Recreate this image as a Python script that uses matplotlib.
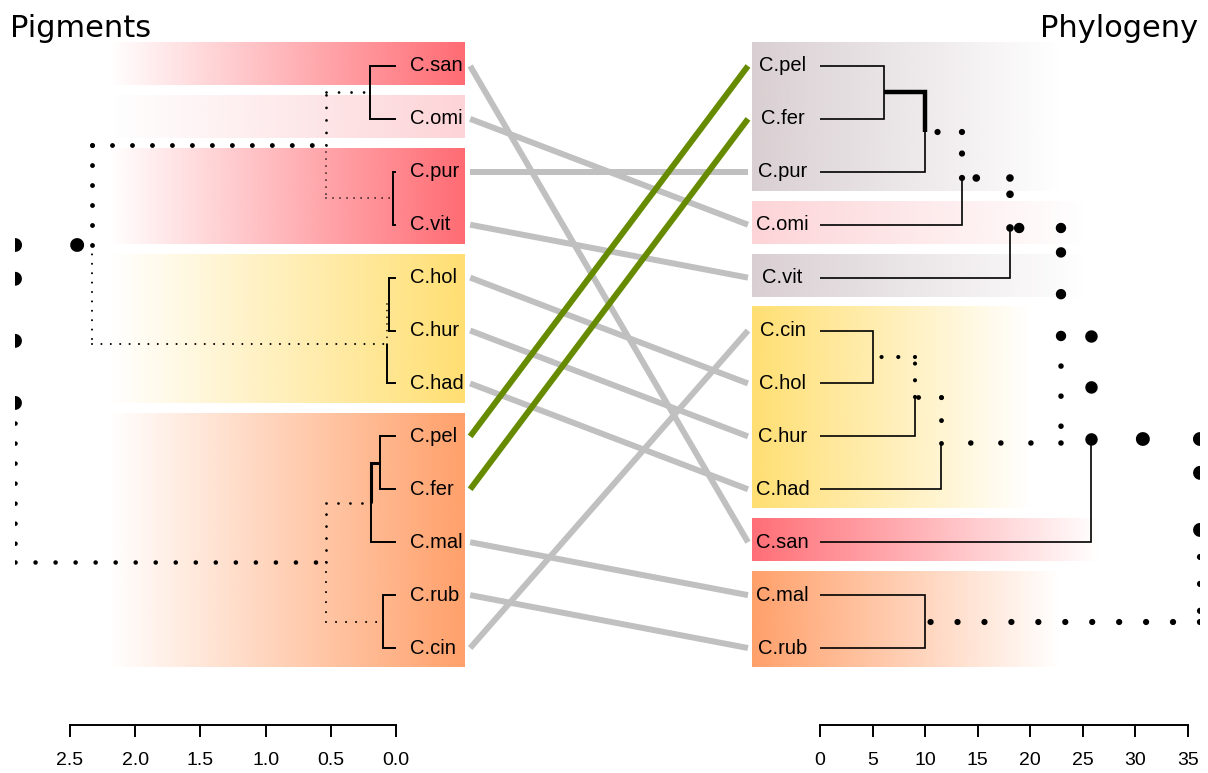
import numpy as np
import matplotlib
matplotlib.use('Agg')
import matplotlib.pyplot as plt
from matplotlib.colors import to_rgb

plt.rcParams['font.family'] = ['Liberation Sans', 'DejaVu Sans']

# leaf order of each tree, top to bottom
left_labels = ['C.san', 'C.omi', 'C.pur', 'C.vit', 'C.hol', 'C.hur', 'C.had',
               'C.pel', 'C.fer', 'C.mal', 'C.rub', 'C.cin']
right_labels = ['C.pel', 'C.fer', 'C.pur', 'C.omi', 'C.vit', 'C.cin', 'C.hol',
                'C.hur', 'C.had', 'C.san', 'C.mal', 'C.rub']

# merges: a leaf name or the index of an earlier merge, with merge heights
left_merges = [('C.san', 'C.omi'), ('C.pur', 'C.vit'), (0, 1), ('C.hol', 'C.hur'),
               (3, 'C.had'), (2, 4), ('C.pel', 'C.fer'), (6, 'C.mal'),
               ('C.rub', 'C.cin'), (7, 8), (5, 9)]
left_heights = [0.20, 0.02, 0.54, 0.05, 0.07, 2.33, 0.12, 0.19, 0.10, 0.54, 2.92]

right_merges = [('C.pel', 'C.fer'), (0, 'C.pur'), (1, 'C.omi'), (2, 'C.vit'),
                ('C.cin', 'C.hol'), (4, 'C.hur'), (5, 'C.had'), (3, 6),
                (7, 'C.san'), ('C.mal', 'C.rub'), (8, 9)]
right_heights = [6.1, 10.0, 13.5, 18.1, 5.05, 9.0, 11.5, 22.9, 25.8, 10.0, 36.1]

# coloured groups: first leaf, last leaf, colour
left_groups = [('C.san', 'C.san', '#FF6B73'), ('C.omi', 'C.omi', '#FDD4D7'),
               ('C.pur', 'C.vit', '#FF6B73'), ('C.hol', 'C.had', '#FFDF72'),
               ('C.pel', 'C.cin', '#FFA06A')]
right_groups = [('C.pel', 'C.pur', '#D9CFD2'), ('C.omi', 'C.omi', '#FDD4D7'),
                ('C.vit', 'C.vit', '#D9CFD2'), ('C.cin', 'C.had', '#FFDF72'),
                ('C.san', 'C.san', '#FF6E76'), ('C.mal', 'C.rub', '#FFA06A')]

# leaves joined by the highlighted (green) connectors
common = ['C.pel', 'C.fer']

left_ticks = [0.0, 0.5, 1.0, 1.5, 2.0, 2.5]
right_ticks = [0, 5, 10, 15, 20, 25, 30, 35]

# branch styles per merge (line width in pt, dot gap; gap 0 = solid)
left_lw = [(1.4, 1.4), (1.4, 1.4), (2.0, 1.2), (1.4, 1.4), (1.2, 1.4), (3.5, 1.5),
           (1.4, 1.4), (2.2, 1.4), (1.4, 1.4), (2.0, 1.5), (10, 3.3)]
left_gap = [(0, 0), (0, 0), (4.5, 4.2), (0, 0), (4.0, 0), (4.1, 4.5),
            (0, 0), (0, 0), (0, 0), (4.3, 4.8), (4.46, 4.36)]
right_lw = [(1.2, 1.2), (3.2, 1.2), (4.5, 1.2), (5.5, 1.2), (1.2, 1.2), (3.0, 1.2),
            (3.5, 1.2), (7.5, 4.0), (9.0, 1.2), (1.2, 1.2), (10, 4.5)]
right_gap = [(0, 0), (0, 0), (3.9, 0), (4.4, 0), (0, 0), (4.0, 0),
             (4.7, 0), (4.0, 5.4), (4.15, 0), (0, 0), (4.1, 4.3)]
right_fade = [22.8, 25.2, 25.2, 20.0, 26.6, 22.8]

W, H = 1208, 773
fig = plt.figure(figsize=(W / 100, H / 100), dpi=100)


def px_axes(x0, x1, y0, y1):
    return fig.add_axes([x0 / W, 1 - y1 / H, (x1 - x0) / W, (y1 - y0) / H])


ylim = (13.455, 0.509)


def draw_tree(ax, labels, merges, heights, lws, gaps):
    pos = {lab: (0.0, i + 1) for i, lab in enumerate(labels)}
    for k, (a, b) in enumerate(merges):
        pos[k] = (heights[k], (pos[a][1] + pos[b][1]) / 2)
    for k, (a, b) in enumerate(merges):
        xn, yn = pos[k]
        for c, lw, gap in zip((a, b), lws[k], gaps[k]):
            xc, yc = pos[c]
            if gap == 0:
                ax.plot([xn, xn, xc], [yn, yc, yc], color='black', lw=lw,
                        solid_capstyle='butt', solid_joinstyle='miter', zorder=2)
            else:
                for xs, ys in (([xn, xn], [yn, yc]), ([xn, xc], [yc, yc])):
                    ax.plot(xs, ys, color='black', lw=lw, zorder=2,
                            linestyle=(0, (0.01, gap)), dash_capstyle='round')


def band(ax, labels, first, last, color, x0, x1, a0, a1):
    g = np.zeros((1, 256, 4))
    g[..., :3] = to_rgb(color)
    g[..., 3] = np.linspace(a0, a1, 256)
    i0 = labels.index(first) + 1
    i1 = labels.index(last) + 1
    ax.imshow(g, extent=(x0, x1, i1 + 0.36, i0 - 0.44), aspect='auto',
              interpolation='bilinear', zorder=0)


def style_axis(ax, ticks, labels, lo, hi):
    for s in ['top', 'left', 'right']:
        ax.spines[s].set_visible(False)
    ax.spines['bottom'].set_bounds(lo, hi)
    ax.spines['bottom'].set_linewidth(1.4)
    ax.set_xticks(ticks)
    ax.set_xticklabels(labels)
    ax.set_yticks([])
    ax.tick_params(axis='x', direction='out', length=8.6, width=1.4,
                   labelsize=14, pad=11)
    ax.patch.set_visible(False)


# left tree (pigments)
axL = px_axes(15, 465, 40, 725)
xl = (2.9218, -0.5291)
for first, last, col in left_groups:
    band(axL, left_labels, first, last, col, 2.2, xl[1], 0.0, 1.0)
draw_tree(axL, left_labels, left_merges, left_heights, left_lw, left_gap)
for i, lab in enumerate(left_labels):
    axL.text(-0.107, i + 1, lab, ha='left', va='center', fontsize=14.5, zorder=3)
axL.set_xlim(xl)
axL.set_ylim(ylim)
style_axis(axL, left_ticks, ['%.1f' % t for t in left_ticks], 0, 2.5)

# right tree (phylogeny)
axR = px_axes(752, 1200, 40, 725)
xr = (-6.4676, 36.142)
for (first, last, col), fade in zip(right_groups, right_fade):
    band(axR, right_labels, first, last, col, xr[0], fade, 1.0, 0.0)
draw_tree(axR, right_labels, right_merges, right_heights, right_lw, right_gap)
for i, lab in enumerate(right_labels):
    axR.text(-3.55, i + 1, lab, ha='center', va='center', fontsize=14.5, zorder=3)
axR.set_xlim(xr)
axR.set_ylim(ylim)
style_axis(axR, right_ticks, [str(t) for t in right_ticks], 0, 35)

# connectors between the two leaf orders
axM = px_axes(465, 752, 40, 725)
for lab in left_labels:
    yl = left_labels.index(lab) + 1
    yr = right_labels.index(lab) + 1
    if lab in common:
        continue
    axM.plot([0.018, 0.986], [yl, yr], color='#C0C0C0', lw=4.3,
             solid_capstyle='butt')
for lab in common:
    yl = left_labels.index(lab) + 1
    yr = right_labels.index(lab) + 1
    axM.plot([0.018, 0.986], [yl, yr], color='#668B00', lw=4.3,
             solid_capstyle='butt')
axM.set_xlim(0, 1)
axM.set_ylim(ylim)
axM.axis('off')

fig.text(10 / W, 1 - 37 / H, 'Pigments', fontsize=22, family='DejaVu Sans',
         ha='left', va='baseline')
fig.text(1198 / W, 1 - 37 / H, 'Phylogeny', fontsize=22, family='DejaVu Sans',
         ha='right', va='baseline')

fig.savefig('out.png', dpi=100)
